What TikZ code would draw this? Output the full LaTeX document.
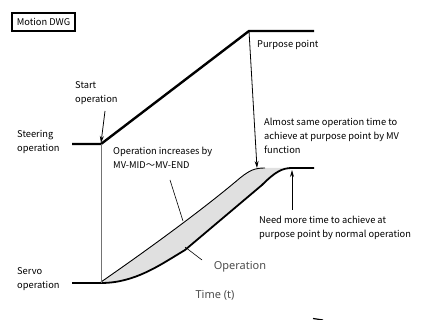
\documentclass[tikz,border=0pt]{standalone}
\usepackage{fontspec}
\setmainfont{Noto Sans CJK JP}
\newfontfamily\lightfont{Noto Sans}
\usetikzlibrary{positioning, arrows.meta}
\tikzset{
  label text/.style={font=\fontsize{9.3}{14}\selectfont, align=left, inner sep=0pt, anchor=north west},
  big text/.style={font=\lightfont\fontsize{11}{12}\selectfont, text=black!70, inner sep=0pt},
  thick line/.style={line width=2.4pt},
  leader/.style={line width=0.6pt},
  pointer/.style={line width=0.8pt, -{Stealth[length=7pt,width=4pt]}},
}
\begin{document}
\begin{tikzpicture}[x=1pt, y=-1pt]
    \useasboundingbox (0,0) rectangle (434,320);
    % title box
    \node[draw, line width=1.6pt, minimum width=63pt, minimum height=18pt, inner sep=1pt,
          font=\fontsize{9.3}{10}\selectfont] (title) at (43.5,22) {Motion DWG};

    % key points
    \coordinate (steer0) at (72,144);
    \coordinate (start) at (101,144);
    \coordinate (purpose) at (249,31);
    \coordinate (steer1) at (314,31);
    \coordinate (servo0) at (72,283);
    \coordinate (servo1) at (101,283);
    \coordinate (mvtop) at (257,168);
    \coordinate (normtop) at (292,168);
    \coordinate (end) at (314,168);

    % band between MV and normal operation
    \fill[black!12] (101,282) .. controls (140,255) and (200,212) .. (240,178)
        .. controls (250,170) and (255,168) .. (265,168) -- (normtop)
        .. controls (282,168) and (275,172) .. (262,185) -- (185,250)
        .. controls (160,265) and (135,283) .. (servo1) -- cycle;

    % steering operation
    \draw[thick line] (steer0) -- (start) -- (purpose) -- (steer1);
    % servo operation, MV function
    \draw[line width=0.9pt] (101,282) .. controls (140,255) and (200,212) .. (240,178)
        .. controls (250,170) and (255,168) .. (265,168);
    % servo operation, normal
    \draw[line width=1.8pt] (servo0) -- (servo1) .. controls (135,283) and (160,265) .. (185,250)
        -- (262,185) .. controls (275,172) and (282,168) .. (normtop) -- (end);
    % start line
    \draw[black!55, line width=0.9pt] (start) -- (servo1);

    % labels
    \node[label text] (startop) at (75,81) {Start\\operation};
    \node[label text] (steerop) at (17,130) {Steering\\operation};
    \node[label text] (servoop) at (17,267) {Servo\\operation};
    \node[label text] (purposept) at (257,40) {Purpose point};
    \node[label text] (samemv) at (264,118) {Almost same operation time to\\achieve at purpose point by MV\\function};
    \node[label text] (increase) at (113,147) {Operation increases by\\MV-MID{～}MV-END};
    \node[label text] (needmore) at (259,216) {Need more time to achieve at\\purpose point by normal operation};
    \node[big text] (operation) at (240,267) {Operation};
    \node[big text] (time) at (215,295) {Time (t)};

    % arrows and leaders
    \coordinate (startarr) at (105,111);
    \draw[pointer] (startarr) -- (101,143);
    \draw[pointer] (purpose) -- (mvtop);
    \coordinate (needarr) at (292,210);
    \draw[pointer] (needarr) -- (292,170);
    \coordinate (incr0) at (170,180);
    \coordinate (incr1) at (183,221);
    \draw[leader] (incr0) -- (incr1);
    \coordinate (oper0) at (202,260);
    \coordinate (oper1) at (185,247);
    \draw[leader] (oper0) -- (oper1);
    % cut-off stroke at the bottom
    \coordinate (cut0) at (313,318.5);
    \coordinate (cut1) at (323,320);
    \draw[line width=1.2pt] (cut0) -- (cut1);
\end{tikzpicture}
\end{document}
